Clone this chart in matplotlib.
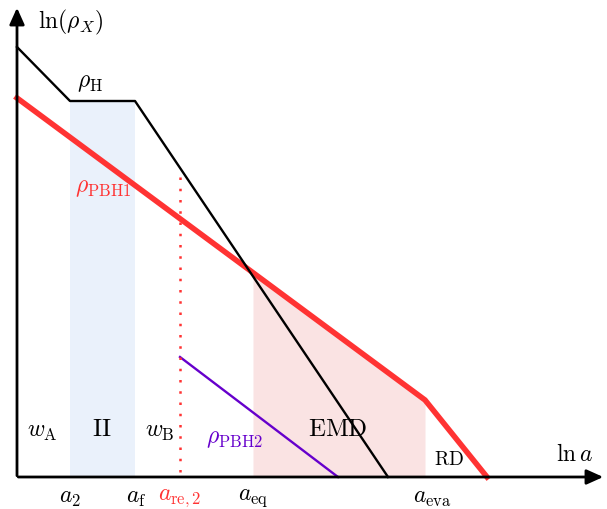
import matplotlib
matplotlib.use('Agg')
import numpy as np
from matplotlib import pyplot as plt

plt.rcParams['mathtext.fontset'] = 'cm'
plt.rcParams['font.family'] = 'serif'
plt.rcParams['font.serif'] = ['DejaVu Serif']

# schematic coordinates (ln a, ln rho), in picture units
rho_h_x = [17, 70, 135, 388]
rho_h_y = [48, 102, 102, 478]
rho_pbh1_x = [17, 425, 487]
rho_pbh1_y = [99, 401, 478]
rho_pbh2_x = [180, 338]
rho_pbh2_y = [358, 478]
a_re2 = 180
a_re2_top = 178
band_ii = [70, 135]
emd_x = [253, 425]

tick_pos = [70, 136, 180, 253, 432]
tick_labels = [r'$a_2$', r'$a_{\rm f}$', r'$a_{\rm re,2}$', r'$a_{\rm eq}$', r'$a_{\rm eva}$']
tick_colors = ['black', 'black', '#ff3333', 'black', 'black']

fig = plt.figure(figsize=(6.07, 5.10), dpi=100)
ax = fig.add_axes([0, 0, 1, 1])
ax.set_xlim(0, 607)
ax.set_ylim(510, 0)
ax.axis('off')

x0, y0 = 17, 478

# shaded regions
ax.fill_between(band_ii, [rho_h_y[1]] * 2, [y0] * 2, color='#eaf1fb', lw=0, zorder=1)
xs = np.array(emd_x)
ys = np.interp(xs, rho_pbh1_x, rho_pbh1_y)
ax.fill_between(xs, ys, [y0] * 2, color='#fae3e3', lw=0, zorder=1)

# lines
ax.plot(rho_h_x, rho_h_y, color='black', lw=1.7, zorder=3)
ax.plot(rho_pbh1_x, rho_pbh1_y, color='#ff3333', lw=4, zorder=2, solid_joinstyle='miter')
ax.plot(rho_pbh2_x, rho_pbh2_y, color='#6600cc', lw=1.7, zorder=3)
ax.plot([a_re2, a_re2], [a_re2_top, y0], color='#ff3333', lw=1.8, ls=(0, (1, 3.5)), zorder=3)

# axes arrows
ax.annotate('', xy=(x0, 6), xytext=(x0, y0 + 1.5),
            arrowprops=dict(arrowstyle='-|>,head_length=1.0,head_width=0.45', color='black', lw=2))
ax.annotate('', xy=(606, y0), xytext=(x0 - 1.5, y0),
            arrowprops=dict(arrowstyle='-|>,head_length=1.0,head_width=0.45', color='black', lw=2))

fs = 17
ax.text(38, 22, r'$\ln(\rho_X)$', fontsize=fs, va='center', ha='left')
ax.text(574, 455, r'$\ln a$', fontsize=fs, va='center', ha='center')
ax.text(90, 82, r'$\rho_{\rm H}$', fontsize=fs, va='center', ha='center')
ax.text(103, 188, r'$\rho_{\rm PBH1}$', fontsize=fs, va='center', ha='center', color='#ff3333')
ax.text(235, 439, r'$\rho_{\rm PBH2}$', fontsize=fs, va='center', ha='center', color='#6600cc')
ax.text(42, 432, r'$w_{\rm A}$', fontsize=fs, va='center', ha='center')
ax.text(160, 432, r'$w_{\rm B}$', fontsize=fs, va='center', ha='center')
ax.text(102, 430, r'$\rm II$', fontsize=fs + 1, va='center', ha='center')
ax.text(338, 430, r'$\rm EMD$', fontsize=fs + 1, va='center', ha='center')
ax.text(449, 460, r'$\rm RD$', fontsize=fs - 3, va='center', ha='center')

for p, lab, c in zip(tick_pos, tick_labels, tick_colors):
    ax.text(p, 498, lab, fontsize=fs, va='center', ha='center', color=c)

plt.savefig('out.png', dpi=100)
